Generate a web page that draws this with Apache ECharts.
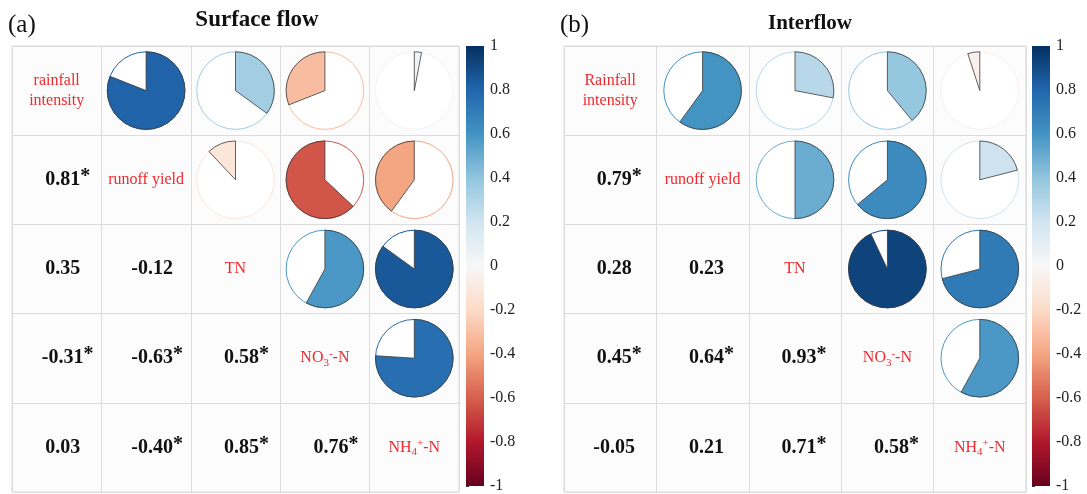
<!DOCTYPE html>
<html><head><meta charset="utf-8">
<script src="https://cdn.jsdelivr.net/npm/echarts@6/dist/echarts.min.js"></script>
<style>html,body{margin:0;padding:0;background:#fff}#c{width:1087px;height:494px}</style>
</head><body><div id="c"></div>
<script>
// ---- data ----
const varIndex = [0, 1, 2, 3, 4];
const surfaceVars = ['rainfall\nintensity', 'runoff yield', 'TN', '{m|NO}{sb|3}{sp|-}{m|-N}', '{m|NH}{sb|4}{sp|+}{m|-N}'];
const interVars = ['Rainfall\nintensity', 'runoff yield', 'TN', '{m|NO}{sb|3}{sp|-}{m|-N}', '{m|NH}{sb|4}{sp|+}{m|-N}'];
// upper triangle pies: [col, row, r]
const surfacePie = [[1,0,0.81],[2,0,0.35],[3,0,-0.31],[4,0,0.03],[2,1,-0.12],[3,1,-0.63],[4,1,-0.40],[3,2,0.58],[4,2,0.85],[4,3,0.76]];
const interPie = [[1,0,0.60],[2,0,0.28],[3,0,0.39],[4,0,-0.05],[2,1,0.50],[3,1,0.64],[4,1,0.21],[3,2,0.93],[4,2,0.71],[4,3,0.58]];
// lower triangle coefficients: [col, row, r, significant]
const surfaceCoef = [[0,1,0.81,1],[0,2,0.35,0],[1,2,-0.12,0],[0,3,-0.31,1],[1,3,-0.63,1],[2,3,0.58,1],[0,4,0.03,0],[1,4,-0.40,1],[2,4,0.85,1],[3,4,0.76,1]];
const interCoef = [[0,1,0.79,1],[0,2,0.28,0],[1,2,0.23,0],[0,3,0.45,1],[1,3,0.64,1],[2,3,0.93,1],[0,4,-0.05,0],[1,4,0.21,0],[2,4,0.71,1],[3,4,0.58,1]];
const panelTitles = ['Surface flow', 'Interflow'];
const panelTags = ['(a)', '(b)'];
const cbMin = -1, cbMax = 1, cbStep = 0.2;
const rdbu = ['#67001f','#b2182b','#d6604d','#f4a582','#fddbc7','#f7f7f7','#d1e5f0','#92c5de','#4393c3','#2166ac','#053061'];

const FONT = '"Liberation Serif", "Times New Roman", serif';

function pieItem(params, api) {
  const c = api.coord([api.value(0), api.value(1)]);
  const s = api.size([1, 1]);
  const r = Math.min(s[0], s[1]) * 0.435;
  const v = api.value(2);
  const col = api.visual('color');
  const top = -Math.PI / 2, a = top + 2 * Math.PI * v;
  return {type: 'group', children: [
    {type: 'circle', shape: {cx: c[0], cy: c[1], r: r}, style: {fill: '#ffffff', stroke: col, lineWidth: 1}},
    {type: 'sector', shape: {cx: c[0], cy: c[1], r: r, r0: 0, startAngle: v >= 0 ? top : a, endAngle: v >= 0 ? a : top, clockwise: true},
     style: {fill: col, stroke: '#3a3a3a', lineWidth: 0.8}}
  ]};
}
const numRich = {
  n: {fontSize: 20, fontWeight: 'bold', fontFamily: FONT, fill: '#111', lineHeight: 26},
  s: {fontSize: 20, fontWeight: 'bold', fontFamily: FONT, fill: '#111', lineHeight: 21, verticalAlign: 'top'},
  h: {fontSize: 20, fontWeight: 'bold', fontFamily: FONT, fill: 'rgba(0,0,0,0)', lineHeight: 21, verticalAlign: 'top'}
};
function numItemFactory(off) {
  return function (params, api) {
    const c = api.coord([api.value(0), api.value(1)]);
    const v = api.value(2), sig = api.value(3);
    const t = v.toFixed(2);
    const text = sig ? '{h|*}{n|' + t + '}{s|*}' : '{n|' + t + '}';
    return {type: 'text', x: c[0] + off, y: c[1],
      style: {text: text, rich: numRich, align: 'center', verticalAlign: 'middle', textAlign: 'center', textVerticalAlign: 'middle'}};
  };
}
const labRich = {
  m: {fontSize: 16, fontFamily: FONT, fill: '#f0282d', lineHeight: 20},
  sb: {fontSize: 11, fontFamily: FONT, fill: '#f0282d', lineHeight: 9, verticalAlign: 'bottom'},
  sp: {fontSize: 11, fontFamily: FONT, fill: '#f0282d', lineHeight: 9, verticalAlign: 'top'}
};
function diagItemFactory(labels) {
  return function (params, api) {
    const c = api.coord([api.value(0), api.value(1)]);
    return {type: 'text', x: c[0], y: c[1],
      style: {text: labels[params.dataIndex], rich: labRich, fontSize: 16, fontFamily: FONT, fill: '#f0282d', lineHeight: 20,
        align: 'center', verticalAlign: 'middle', textAlign: 'center', textVerticalAlign: 'middle'}};
  };
}
function cbItem(params, api) {
  const p1 = api.coord([0, cbMax]), p2 = api.coord([1, cbMin]);
  const stops = rdbu.map((c, i) => ({offset: 1 - i / (rdbu.length - 1), color: c})).reverse();
  return {type: 'rect', shape: {x: p1[0], y: p1[1], width: p2[0] - p1[0], height: p2[1] - p1[1]},
    style: {fill: new echarts.graphic.LinearGradient(0, 0, 0, 1, stops)}};
}

const gridStyle = {show: true, backgroundColor: '#fcfcfc', borderColor: '#dcdcdc', borderWidth: 1};
const catX = i => ({type: 'category', gridIndex: i, data: varIndex, axisLine: {show: false}, axisTick: {show: false}, axisLabel: {show: false},
  splitLine: {show: true, interval: 0, lineStyle: {color: '#dcdcdc', width: 1}}});
const catY = i => ({type: 'category', gridIndex: i, inverse: true, data: varIndex, axisLine: {show: false}, axisTick: {show: false}, axisLabel: {show: false},
  splitLine: {show: true, interval: 0, lineStyle: {color: '#dcdcdc', width: 1}}});
const cbX = i => ({type: 'value', gridIndex: i, min: 0, max: 1, show: false});
const cbY = i => ({type: 'value', gridIndex: i, min: cbMin, max: cbMax, interval: cbStep, position: 'right',
  axisLine: {show: false}, axisTick: {show: true, length: 3, lineStyle: {color: '#333'}}, splitLine: {show: false},
  axisLabel: {margin: 6, fontSize: 16, fontFamily: FONT, color: '#222', formatter: v => String(Number(v.toFixed(1)))}});

const option = {
  backgroundColor: '#ffffff',
  animation: false,
  graphic: [
    {type: 'text', x: 8, y: 25, style: {text: panelTags[0], font: '25px ' + FONT, fill: '#111', align: 'left', verticalAlign: 'middle', textAlign: 'left', textVerticalAlign: 'middle'}},
    {type: 'text', x: 257, y: 20, style: {text: panelTitles[0], font: 'bold 23px ' + FONT, fill: '#111', align: 'center', verticalAlign: 'middle', textAlign: 'center', textVerticalAlign: 'middle'}},
    {type: 'text', x: 560, y: 25, style: {text: panelTags[1], font: '25px ' + FONT, fill: '#111', align: 'left', verticalAlign: 'middle', textAlign: 'left', textVerticalAlign: 'middle'}},
    {type: 'text', x: 810, y: 24, style: {text: panelTitles[1], font: 'bold 21px ' + FONT, fill: '#111', align: 'center', verticalAlign: 'middle', textAlign: 'center', textVerticalAlign: 'middle'}}
  ],
  grid: [
    Object.assign({left: 12, top: 46, width: 447, height: 446}, gridStyle),
    Object.assign({left: 564, top: 46, width: 462, height: 446}, gridStyle),
    {left: 466, top: 46, width: 18, height: 446},
    {left: 1032, top: 46, width: 18, height: 446}
  ],
  xAxis: [catX(0), catX(1), cbX(2), cbX(3)],
  yAxis: [catY(0), catY(1), cbY(2), cbY(3)],
  visualMap: {show: false, type: 'continuous', min: cbMin, max: cbMax, dimension: 2, seriesIndex: [0, 3], inRange: {color: rdbu}},
  series: [
    {type: 'custom', xAxisIndex: 0, yAxisIndex: 0, data: surfacePie, renderItem: pieItem},
    {type: 'custom', xAxisIndex: 0, yAxisIndex: 0, data: surfaceCoef, renderItem: numItemFactory(6)},
    {type: 'custom', xAxisIndex: 0, yAxisIndex: 0, data: varIndex.map(i => [i, i]), renderItem: diagItemFactory(surfaceVars)},
    {type: 'custom', xAxisIndex: 1, yAxisIndex: 1, data: interPie, renderItem: pieItem},
    {type: 'custom', xAxisIndex: 1, yAxisIndex: 1, data: interCoef, renderItem: numItemFactory(4)},
    {type: 'custom', xAxisIndex: 1, yAxisIndex: 1, data: varIndex.map(i => [i, i]), renderItem: diagItemFactory(interVars)},
    {type: 'custom', xAxisIndex: 2, yAxisIndex: 2, data: [[0, 0]], renderItem: cbItem},
    {type: 'custom', xAxisIndex: 3, yAxisIndex: 3, data: [[0, 0]], renderItem: cbItem}
  ]
};
const chart = echarts.init(document.getElementById('c'), null, {renderer: 'canvas'});
chart.setOption(option);
</script>
</body></html>
